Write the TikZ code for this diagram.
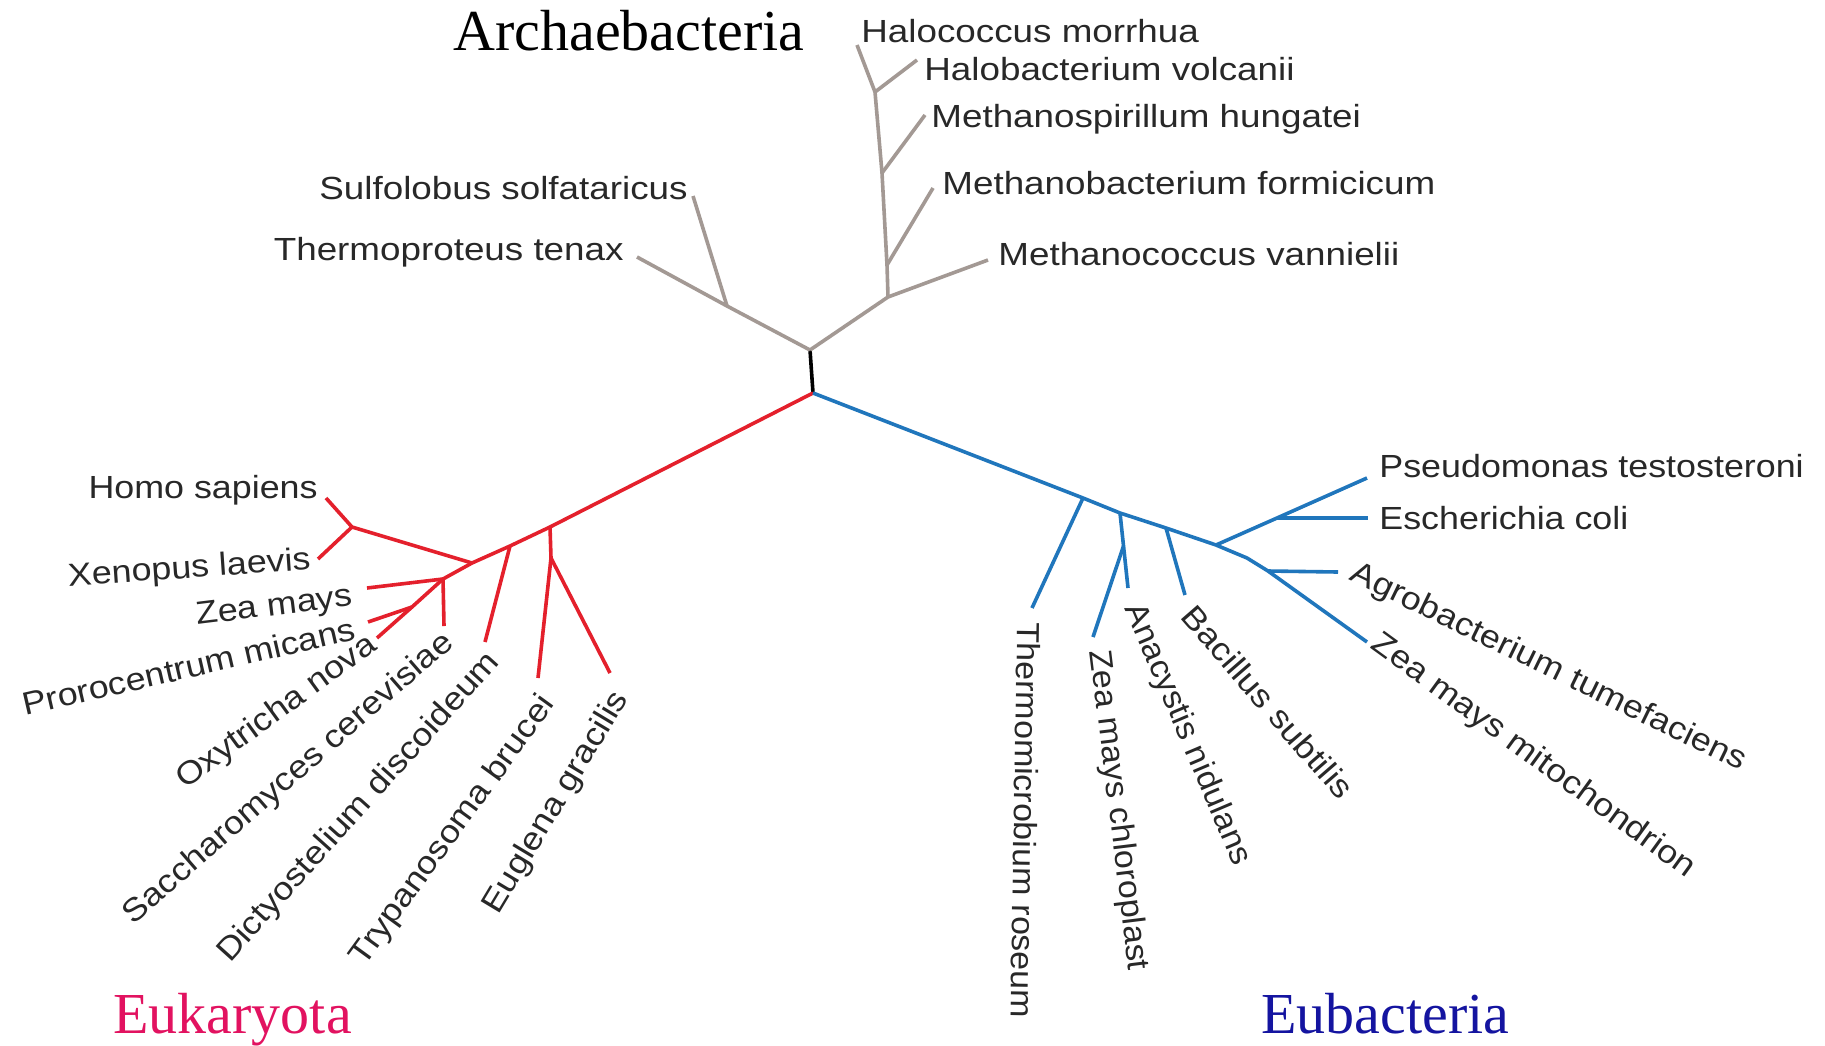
\documentclass[tikz,border=0pt]{standalone}
\usepackage{fontspec}
\setmainfont{Liberation Serif}
\newfontfamily\labfont[FakeStretch=1.12]{Liberation Sans}
\newfontfamily\labfontA[FakeStretch=1.15]{Liberation Sans}
\newfontfamily\labfontN[FakeStretch=1.06]{Liberation Sans}
\definecolor{archc}{RGB}{163,153,148}
\definecolor{eukline}{RGB}{228,32,44}
\definecolor{bacline}{RGB}{32,118,188}
\definecolor{eukt}{RGB}{226,18,96}
\definecolor{bact}{RGB}{20,20,160}
\definecolor{labc}{RGB}{40,40,40}
\begin{document}
\begin{tikzpicture}[x=0.5pt,y=-0.5pt,
  br/.style={line width=1.8pt,line join=round},
  arch/.style={br,draw=archc},
  euk/.style={br,draw=eukline},
  bac/.style={br,draw=bacline},
  lab/.style={inner sep=0pt,text=labc,font=\labfont\fontsize{16}{16}\selectfont},
  labA/.style={lab,font=\labfontA\fontsize{16}{16}\selectfont},
  labN/.style={lab,font=\labfontN\fontsize{16}{16}\selectfont},
  ttl/.style={inner sep=0pt,anchor=base west,font=\fontsize{29}{29}\selectfont}]
\useasboundingbox (0,0) rectangle (1825,1045);
\fill[white] (0,0) rectangle (1825,1045);

% titles
\node[ttl,text=black] (tArch) at (453,50) {Archaebacteria};
\node[ttl,text=eukt] (tEuk) at (113,1033) {Eukaryota};
\node[ttl,text=bact] (tEub) at (1261,1033) {Eubacteria};

% centre
\coordinate (C) at (813,393);
\coordinate (A0) at (810,350);

% Archaea
\coordinate (AL) at (727,306);
\coordinate (thE) at (637,257);
\coordinate (suE) at (693,196);
\coordinate (H4) at (888,297);
\coordinate (mvE) at (988,260);
\coordinate (H3) at (887,265);
\coordinate (mfE) at (933,188);
\coordinate (H2) at (882,173);
\coordinate (mhE) at (925,115);
\coordinate (H1) at (875,92);
\coordinate (hvE) at (917,60);
\coordinate (hmE) at (857,45);

\draw[br,draw=black] (C) -- (A0);
\draw[arch] (A0) -- (AL) -- (thE);
\draw[arch] (AL) -- (suE);
\draw[arch] (A0) -- (H4) -- (mvE);
\draw[arch] (H4) -- (H3) -- (H2) -- (H1) -- (hmE);
\draw[arch] (H3) -- (mfE);
\draw[arch] (H2) -- (mhE);
\draw[arch] (H1) -- (hvE);

\node[labA,anchor=west] (hm) at (861,31) {Halococcus morrhua};
\node[labA,anchor=west] (hv) at (924,69) {Halobacterium volcanii};
\node[labA,anchor=west] (mh) at (931,119) {Methanospirillum hungatei};
\node[labA,anchor=west] (mf) at (942,183) {Methanobacterium formicicum};
\node[labA,anchor=west] (mv) at (998,254) {Methanococcus vannielii};
\node[labA,anchor=east] (su) at (688,188) {Sulfolobus solfataricus};
\node[labA,anchor=east] (th) at (624,252) {Thermoproteus tenax};

% Eukaryota
\coordinate (E1) at (550,527);
\coordinate (E2) at (551,558);
\coordinate (trE) at (538,678);
\coordinate (egE) at (610,673);
\coordinate (D1) at (510,546);
\coordinate (diE) at (485,642);
\coordinate (HXj) at (472,563);
\coordinate (HX) at (352,527);
\coordinate (hsE) at (326,498);
\coordinate (xlE) at (318,559);
\coordinate (G) at (443,579);
\coordinate (saE) at (444,626);
\coordinate (zmE) at (367,588);
\coordinate (P2) at (412,607);
\coordinate (oxE) at (377,638);
\coordinate (prE) at (368,622);

\draw[euk] (C) -- (E1) -- (D1) -- (HXj) -- (G);
\draw[euk] (E1) -- (E2) -- (trE);
\draw[euk] (E2) -- (egE);
\draw[euk] (D1) -- (diE);
\draw[euk] (HXj) -- (HX) -- (hsE);
\draw[euk] (HX) -- (xlE);
\draw[euk] (G) -- (saE);
\draw[euk] (G) -- (zmE);
\draw[euk] (G) -- (P2) -- (oxE);
\draw[euk] (P2) -- (prE);

\node[lab,anchor=east] (hs) at (318,490) {Homo sapiens};
\node[lab,anchor=east,rotate=4] (xl) at (311,561) {Xenopus laevis};
\node[lab,anchor=east,rotate=7] (zm) at (353,598) {Zea mays};
\node[lab,anchor=east,rotate=13] (pr) at (355,628) {Prorocentrum micans};
\node[lab,anchor=east,rotate=36] (ox) at (374,642) {Oxytricha nova};
\node[lab,anchor=east,rotate=41] (sa) at (450,639) {Saccharomyces cerevisiae};
\node[lab,anchor=east,rotate=48] (di) at (495,657) {Dictyostelium discoideum};
\node[lab,anchor=east,rotate=54] (tr) at (549,699) {Trypanosoma brucei};
\node[lab,anchor=east,rotate=59] (eg) at (622,694) {Euglena gracilis};

% Eubacteria
\coordinate (T1) at (1083,498);
\coordinate (tmE) at (1032,608);
\coordinate (Z1) at (1120,513);
\coordinate (anE) at (1128,588);
\coordinate (Z2) at (1123.5,546);
\coordinate (zcE) at (1093,637);
\coordinate (B1) at (1166,528);
\coordinate (baE) at (1185,595);
\coordinate (P1) at (1216,545);
\coordinate (E3) at (1277,518);
\coordinate (psE) at (1367,478);
\coordinate (ecE) at (1368,518);
\coordinate (Bd) at (1247,558);
\coordinate (A1) at (1268,571);
\coordinate (agE) at (1338,572);
\coordinate (zmmE) at (1367,642);

\draw[bac] (C) -- (T1) -- (Z1) -- (B1) -- (P1) -- (Bd) -- (A1) -- (zmmE);
\draw[bac] (T1) -- (tmE);
\draw[bac] (Z1) -- (anE);
\draw[bac] (Z2) -- (zcE);
\draw[bac] (B1) -- (baE);
\draw[bac] (P1) -- (E3) -- (psE);
\draw[bac] (E3) -- (ecE);
\draw[bac] (A1) -- (agE);

\node[lab,anchor=west] (ps) at (1379,466) {Pseudomonas testosteroni};
\node[lab,anchor=west] (ec) at (1379,518) {Escherichia coli};
\node[lab,anchor=west,rotate=-26] (ag) at (1352,572) {Agrobacterium tumefaciens};
\node[lab,anchor=west,rotate=-36] (zmm) at (1374,641) {Zea mays mitochondrion};
\node[lab,anchor=west,rotate=-49] (ba) at (1188,610) {Bacillus subtilis};
\node[labN,anchor=west,rotate=-67] (an) at (1132,605) {Anacystis nidulans};
\node[labN,anchor=west,rotate=-83] (zc) at (1098,650) {Zea mays chloroplast};
\node[labN,anchor=west,rotate=-91] (tm) at (1029,622) {Thermomicrobium roseum};
\end{tikzpicture}
\end{document}
